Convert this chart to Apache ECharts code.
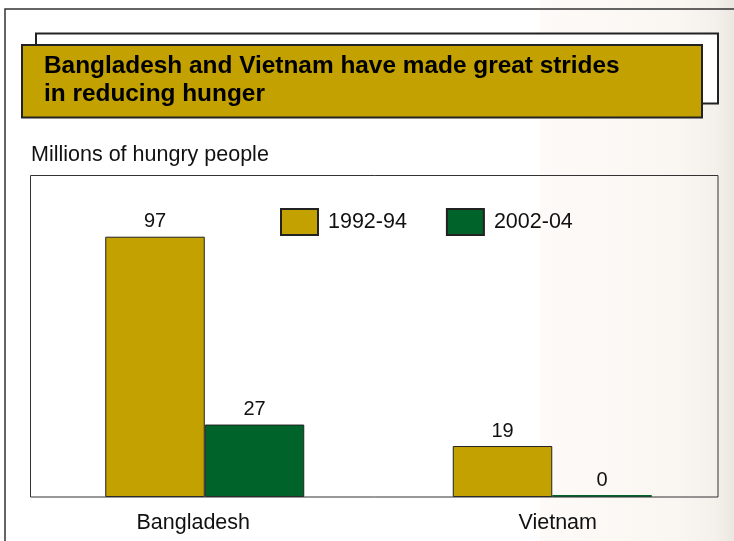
<!DOCTYPE html>
<html>
<head>
<meta charset="utf-8">
<script src="https://cdn.jsdelivr.net/npm/echarts@6/dist/echarts.min.js"></script>
<style>
html,body{margin:0;padding:0;background:#fff;}
#chart{width:734px;height:541px;}
</style>
</head>
<body>
<div id="chart"></div>
<script>
const categories = ['Bangladesh', 'Vietnam'];
const seriesNames = ['1992-94', '2002-04'];
const values1992 = [97, 19];
const values2002 = [27, 0];
const titleLines = ['Bangladesh and Vietnam have made great strides', 'in reducing hunger'];
const unitLabel = 'Millions of hungry people';

const GOLD = '#C2A100';
const GREEN = '#00632A';
const EDGE = '#222';
const FONT = '"Liberation Sans", Arial, Helvetica, sans-serif';

const chart = echarts.init(document.getElementById('chart'), null, {renderer: 'canvas'});

function toData(vals, color) {
  return vals.map(v => v === 0
    ? {value: v, itemStyle: {borderColor: color, borderWidth: 0}}
    : {value: v});
}

const valueLabel = {show: true, position: 'top', distance: 5, fontSize: 20, color: '#111', fontFamily: FONT};

const option = {
  backgroundColor: '#ffffff',
  animation: false,
  textStyle: {fontFamily: FONT},
  grid: {left: 31, right: 8, top: 175, bottom: 44, show: false},
  legend: {
    left: 280, top: 208, padding: 0,
    icon: 'rect',
    itemWidth: 37, itemHeight: 26, itemGap: 39,
    textStyle: {fontSize: 21.5, color: '#111', fontFamily: FONT, padding: [0, 0, 0, 5]},
    data: seriesNames
  },
  xAxis: {
    type: 'category',
    data: categories,
    axisLine: {show: false},
    axisTick: {show: false},
    axisLabel: {
      fontSize: 21.5, color: '#111', margin: 15, fontFamily: FONT,
      formatter: (v, i) => '{c' + i + '|' + v + '}',
      rich: {
        c0: {fontSize: 21.5, color: '#111', fontFamily: FONT, padding: [0, 23, 0, 0]},
        c1: {fontSize: 21.5, color: '#111', fontFamily: FONT, padding: [0, 0, 0, 11]}
      }
    }
  },
  yAxis: {
    type: 'value', min: 0, max: 120,
    show: false,
    splitLine: {show: false}
  },
  series: [
    {
      name: seriesNames[0], type: 'bar', barWidth: 99.5, barGap: '0%',
      data: toData(values1992, GOLD),
      itemStyle: {color: GOLD, borderColor: EDGE, borderWidth: 1},
      label: valueLabel
    },
    {
      name: seriesNames[1], type: 'bar', barWidth: 99.5, barGap: '0%', barMinHeight: 2,
      data: toData(values2002, GREEN),
      itemStyle: {color: GREEN, borderColor: EDGE, borderWidth: 1},
      label: valueLabel
    }
  ],
  graphic: [
    {
      type: 'rect', z: -10, silent: true,
      shape: {x: 540, y: 0, width: 194, height: 541},
      style: {
        fill: new echarts.graphic.LinearGradient(0, 0, 1, 0, [
          {offset: 0, color: 'rgba(253,250,247,1)'},
          {offset: 0.7, color: 'rgba(250,247,243,1)'},
          {offset: 0.9, color: 'rgba(244,240,235,1)'},
          {offset: 1, color: 'rgba(236,231,225,1)'}
        ])
      }
    },
    {
      type: 'polyline', z: 5, silent: true,
      shape: {points: [[5, 545], [5, 9], [740, 9]]},
      style: {stroke: '#333', lineWidth: 1.5, fill: null}
    },
    {
      type: 'rect', z: 5, silent: true,
      shape: {x: 36, y: 33.5, width: 682, height: 70},
      style: {fill: '#fff', stroke: EDGE, lineWidth: 2}
    },
    {
      type: 'rect', z: 6, silent: true,
      shape: {x: 22, y: 45, width: 680, height: 72.5},
      style: {fill: GOLD, stroke: EDGE, lineWidth: 2}
    },
    {
      type: 'text', z: 7, silent: true,
      style: {
        x: 44, y: 52.7, text: titleLines.join('\n'),
        font: 'bold 24.4px ' + FONT, lineHeight: 28,
        fill: '#000', textVerticalAlign: 'top', verticalAlign: 'top'
      }
    },
    {
      type: 'text', z: 7, silent: true,
      style: {
        x: 31, y: 155, text: unitLabel,
        font: '21.5px ' + FONT, fill: '#111',
        textVerticalAlign: 'middle', verticalAlign: 'middle'
      }
    },
    {
      type: 'rect', z: 4, silent: true,
      shape: {x: 30.5, y: 175.5, width: 687.5, height: 321.5},
      style: {fill: null, stroke: '#333', lineWidth: 1}
    }
  ]
};
chart.setOption(option);
</script>
</body>
</html>
